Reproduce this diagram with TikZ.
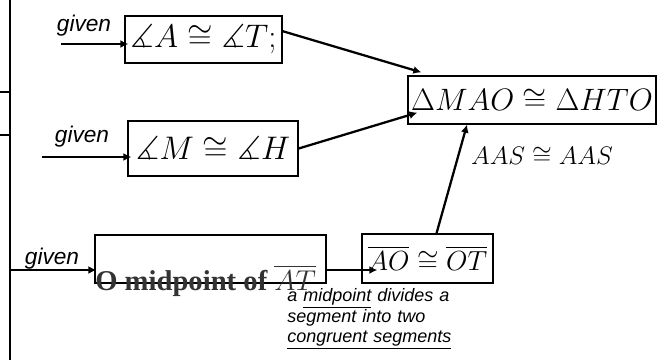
\RequirePackage{fix-cm}
\documentclass[tikz,border=0pt]{standalone}
\usepackage{amssymb}
\usepackage{fontspec}
\setmainfont{Liberation Sans}
\newfontfamily\timesfont{Liberation Serif}
\usetikzlibrary{arrows.meta}
\tikzset{
  stmt/.style={rectangle,draw=black,line width=1pt,inner sep=0pt,text=black},
  givenlabel/.style={font=\fontsize{17}{20}\selectfont\itshape,inner sep=0pt,anchor=base},
  note/.style={font=\fontsize{13.5}{14.6}\selectfont\itshape,inner sep=0pt,align=left,text width=135pt,anchor=base west},
  arrow/.style={-{Latex[length=6pt,width=6pt]},line width=1.7pt,draw=black}
}

\begin{document}
\begin{tikzpicture}[x=0.75pt,y=-0.75pt]
  \useasboundingbox (0,0) rectangle (667,360);

  % left edge of the page
  \draw[line width=1.3pt] (10,-5) -- (10,365);
  \node[stmt,minimum width=45pt,minimum height=32.25pt] (prev) at (-20,113.5) {};

  % statements
  \node[stmt,minimum width=117.75pt,minimum height=35.25pt,font=\fontsize{24.5}{28}\selectfont] (angA) at (203.5,39.5) {$\measuredangle A \cong \measuredangle T;$};
  \node[stmt,minimum width=127.5pt,minimum height=41.25pt,font=\fontsize{24.5}{28}\selectfont] (angM) at (213,148.5) {$\measuredangle M \cong \measuredangle H$};
  \node[stmt,minimum width=173.25pt,minimum height=36pt] (mid) at (210.5,259) {};
  \node[inner sep=0pt,anchor=base west,text=black!80,font=\fontsize{21.5}{24}\timesfont\bfseries] (midtext) at (95,290) {O midpoint of $\overline{AT}$};
  \node[stmt,minimum width=98.25pt,minimum height=36.75pt,font=\fontsize{20.7}{24}\selectfont] (seg) at (427.5,258.5) {$\overline{AO} \cong \overline{OT}$};
  \node[stmt,minimum width=186pt,minimum height=36pt,font=\fontsize{23.2}{27}\selectfont] (tri) at (532,100) {$\Delta MAO \cong \Delta HTO$};
  \node[font=\fontsize{19}{22}\selectfont] (rule) at (542,156) {$AAS \cong AAS$};

  % reasons
  \node[givenlabel] (lab1) at (84,32) {given};
  \node[givenlabel] (lab2) at (82,142) {given};
  \node[givenlabel] (lab3) at (52,264) {given};
  \node[note] (why) at (287,301) {a \underline{midpoint} divides a\\segment into two\\\underline{congruent segments}};

  \coordinate (g1) at (61,44);
  \coordinate (g2) at (42,157);
  \coordinate (g3) at (10,270);

  \draw[arrow,shorten >=-3pt] (g1) -- (g1 -| angA.west);
  \draw[arrow,shorten >=-3pt] (g2) -- (g2 -| angM.west);
  \draw[arrow,shorten >=-1.5pt] (g3) -- (g3 -| mid.west);
  \draw[arrow,shorten >=-12pt] (g3 -| mid.east) -- (g3 -| seg.west);
  \draw[arrow] (angA.6) -- ([shift={(14,-3)}]tri.north west);
  \draw[arrow] (angM.east) -- ([shift={(10,-12)}]tri.south west);
  \draw[arrow] ([shift={(9,0)}]seg.north) -- ([shift={(-65,0)}]tri.south);
\end{tikzpicture}
\end{document}
